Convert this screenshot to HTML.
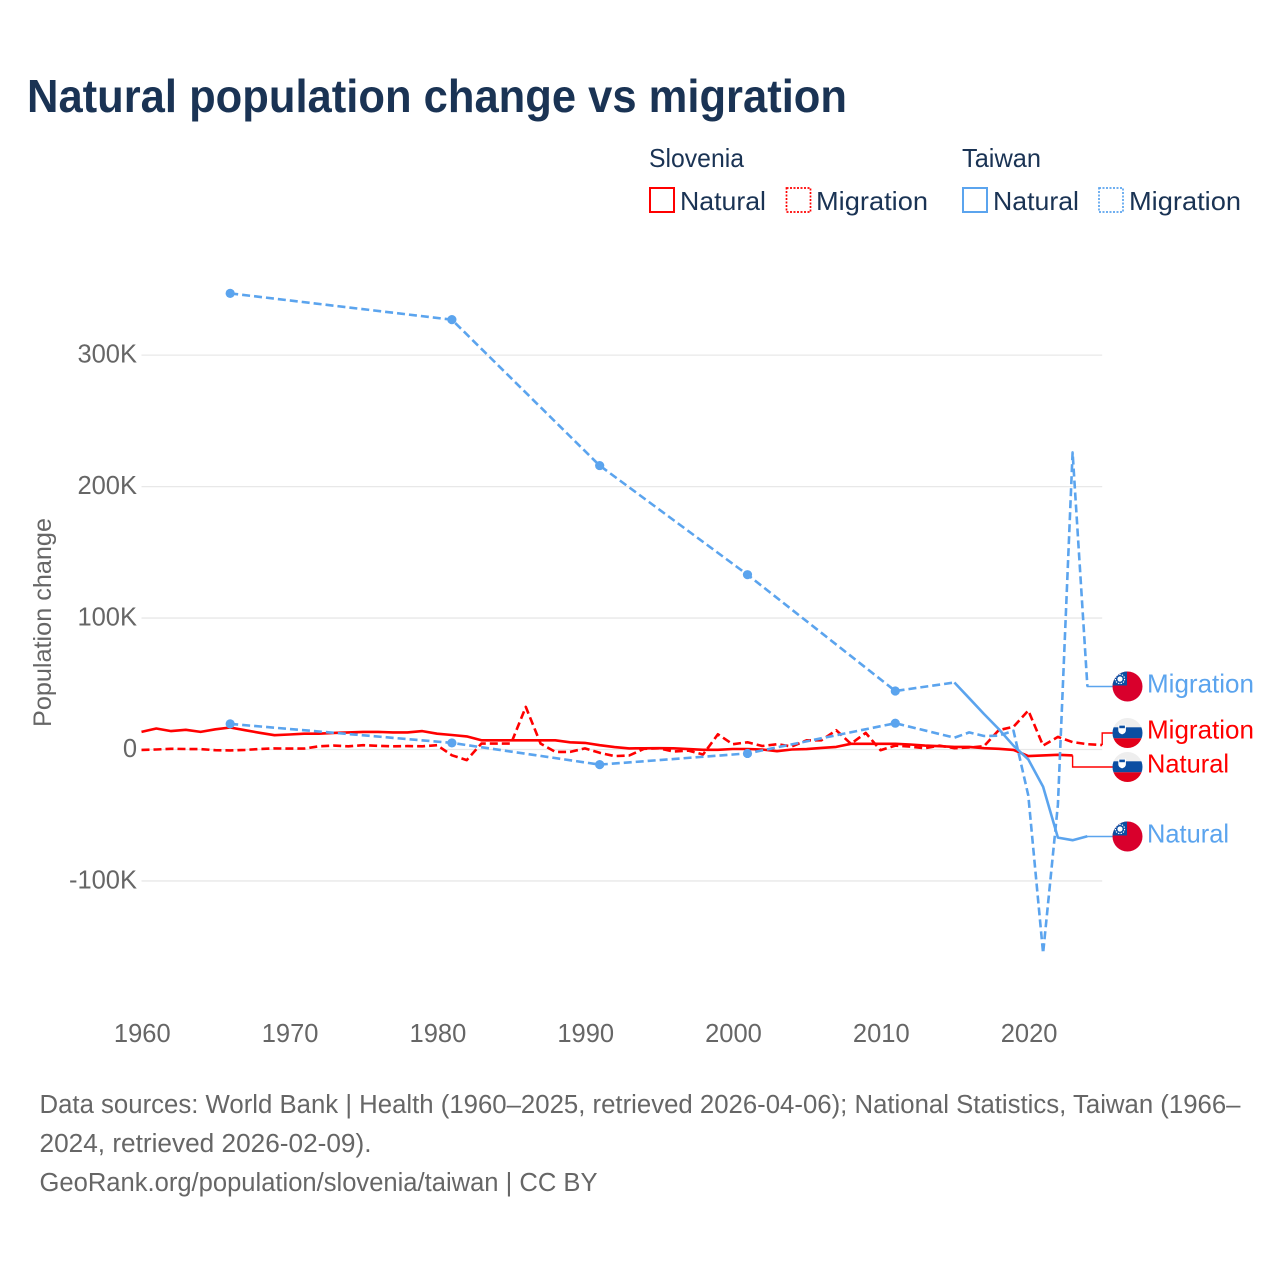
<!DOCTYPE html>
<html lang="en">
<head>
<meta charset="utf-8">
<title>Natural population change vs migration</title>
<style>
html,body{margin:0;padding:0;background:#fff;}
svg{display:block;font-family:"Liberation Sans",sans-serif;}
</style>
</head>
<body>
<svg id="chart" xmlns="http://www.w3.org/2000/svg" width="1280" height="1280" viewBox="0 0 1280 1280">
  <defs>
    <clipPath id="flag-clip"><circle cx="0" cy="0" r="15"/></clipPath>
    <g id="flag-tw" clip-path="url(#flag-clip)">
      <rect x="-15" y="-15" width="30" height="30" fill="#d9002c"/>
      <rect x="-15" y="-15" width="14.5" height="14" fill="#0b4ea2"/>
      <circle cx="-7.5" cy="-7.5" r="2.6" fill="#fff"/>
      <circle cx="-7.5" cy="-7.5" r="4.6" fill="none" stroke="#fff" stroke-width="1.2" stroke-dasharray="1.4 1.2"/>
    </g>
    <g id="flag-si" clip-path="url(#flag-clip)">
      <rect x="-15" y="-15" width="30" height="30" fill="#eeeeee"/>
      <rect x="-15" y="-5.7" width="30" height="11" fill="#0b4ea2"/>
      <rect x="-15" y="5.3" width="30" height="10" fill="#e2001a"/>
      <path d="M-9.2,-8.2 h7.6 v5.6 q0,2.8 -3.8,4 q-3.8,-1.2 -3.8,-4 z" fill="#ffffff"/>
      <rect x="-8.2" y="-7.4" width="5.6" height="2.6" fill="#0b4ea2"/>
    </g>
  </defs>

  <text x="27" y="112" font-size="46" font-weight="bold" fill="#1a3354" textLength="820" lengthAdjust="spacingAndGlyphs">Natural population change vs migration</text>

  <g font-size="26" fill="#1a3354">
    <text x="649" y="167" textLength="95" lengthAdjust="spacingAndGlyphs">Slovenia</text>
    <rect x="650" y="188" width="24" height="24" fill="none" stroke="#ff0000" stroke-width="2"/>
    <text x="680" y="210" textLength="86" lengthAdjust="spacingAndGlyphs">Natural</text>
    <rect x="786.5" y="188" width="24" height="24" fill="none" stroke="#ff0000" stroke-width="1.7" stroke-dasharray="2 1.5"/>
    <text x="816" y="210" textLength="112" lengthAdjust="spacingAndGlyphs">Migration</text>
    <text x="962" y="167" textLength="79" lengthAdjust="spacingAndGlyphs">Taiwan</text>
    <rect x="963" y="188" width="24" height="24" fill="none" stroke="#5ba4ee" stroke-width="2"/>
    <text x="993" y="210" textLength="86" lengthAdjust="spacingAndGlyphs">Natural</text>
    <rect x="1099" y="188" width="24" height="24" fill="none" stroke="#5ba4ee" stroke-width="1.7" stroke-dasharray="2 1.5"/>
    <text x="1129" y="210" textLength="112" lengthAdjust="spacingAndGlyphs">Migration</text>
  </g>

  <text transform="translate(51,727) rotate(-90)" font-size="25" fill="#666666" textLength="209" lengthAdjust="spacingAndGlyphs">Population change</text>

  <g id="grid"></g>
  <g id="yticks" font-size="25.5" fill="#666666" text-anchor="end"></g>
  <g id="xticks" font-size="25.5" fill="#666666" text-anchor="middle"></g>
  <g id="connectors"></g>
  <g id="series"></g>

  <g font-size="26">
    <use href="#flag-tw" x="1127.5" y="686.5"/>
    <text x="1147" y="692.5" fill="#5ba4ee" textLength="107" lengthAdjust="spacingAndGlyphs">Migration</text>
    <use href="#flag-si" x="1127.5" y="733"/>
    <text x="1147" y="738.5" fill="#ff0000" textLength="107" lengthAdjust="spacingAndGlyphs">Migration</text>
    <use href="#flag-si" x="1127.5" y="767"/>
    <text x="1147" y="772.5" fill="#ff0000" textLength="82" lengthAdjust="spacingAndGlyphs">Natural</text>
    <use href="#flag-tw" x="1127.5" y="836.5"/>
    <text x="1147" y="842.5" fill="#5ba4ee" textLength="82" lengthAdjust="spacingAndGlyphs">Natural</text>
  </g>

  <g font-size="25.5" fill="#666666">
    <text x="39.5" y="1113" textLength="1201" lengthAdjust="spacingAndGlyphs">Data sources: World Bank | Health (1960–2025, retrieved 2026-04-06); National Statistics, Taiwan (1966–</text>
    <text x="39.5" y="1152" textLength="332" lengthAdjust="spacingAndGlyphs">2024, retrieved 2026-02-09).</text>
    <text x="39.5" y="1191" textLength="558" lengthAdjust="spacingAndGlyphs">GeoRank.org/population/slovenia/taiwan | CC BY</text>
  </g>
</svg>
<script>
// Chart data, in thousands of people per year, 1960-2025
const firstYear = 1960;
const lastYear = 2025;
const xTickYears = [1960, 1970, 1980, 1990, 2000, 2010, 2020];
const yTickValues = [300, 200, 100, 0, -100];
const yTickLabels = ['300K', '200K', '100K', '0', '-100K'];

const sloveniaNatural = [
  13.4, 16, 14, 15, 13.4, 15.4, 16.7, 14.7, 12.7, 10.9,
  11.4, 12, 12, 12.6, 13, 13.4, 13.4, 13, 13, 14,
  12, 11, 10, 7, 7, 7, 7, 7, 7, 5.5,
  5, 3.3, 1.8, 0.8, 0.9, 1, 0.9, 0.3, -0.2, -0.2,
  0.4, 0.4, 0, -1.3, 0, 0.3, 1.2, 2, 4.3, 4.3,
  4.3, 4.3, 3.8, 3, 2.5, 2, 2, 1, 0.5, -0.3,
  -5, -4.5, -4, -4.5, null, null
];
const sloveniaMigration = [
  -0.3, 0, 0.5, 0.4, 0.3, -0.5, -0.7, -0.3, 0.4, 0.8,
  0.7, 0.7, 2.4, 3, 2.4, 3.3, 2.8, 2.4, 2.6, 2.4,
  3.3, -4.4, -8.1, 4.5, 4.5, 4.5, 32.4, 4.5, -1.8, -1.8,
  0.8, -2.5, -5, -4.6, 0.5, 0.9, -1.5, -0.8, -3.8, 11.6,
  4, 5.5, 2.7, 4, 2.3, 7, 7, 14.7, 4.3, 12.6,
  -0.5, 3, 2.2, 1, 3, 1, 1.5, 2.5, 14.7, 17.3,
  29.7, 3, 9.6, 5.6, 4, 3.4
];
const taiwanNatural = [
  null, null, null, null, null, null, 347, null, null, null,
  null, null, null, null, null, null, null, null, null, null,
  null, 327, null, null, null, null, null, null, null, null,
  null, 216, null, null, null, null, null, null, null, null,
  null, 133, null, null, null, null, null, null, null, null,
  null, 44.5, null, null, null, 51, 39, 27, 15.6, 2.9,
  -7.5, -28.4, -67, -69, -66, null
];
const taiwanMigration = [
  null, null, null, null, null, null, 19.5, null, null, null,
  null, null, null, null, null, null, null, null, null, null,
  null, 5, null, null, null, null, null, null, null, null,
  null, -11.5, null, null, null, null, null, null, null, null,
  null, -3, null, null, null, null, null, null, null, null,
  null, 20, null, null, null, 9, 13, 10.3, 10.5, 14.3,
  -35, -155, -42, 226, 48, null
];

const SVG_NS = 'http://www.w3.org/2000/svg';
const xScale = function (year) { return 141.5 + (year - firstYear) * 14.78; };
const yScale = function (v) { return 749.5 - v * 1.3145; };

function make(tag, parent, attrs) {
  const el = document.createElementNS(SVG_NS, tag);
  Object.keys(attrs).forEach(function (k) { el.setAttribute(k, attrs[k]); });
  parent.appendChild(el);
  return el;
}
function pathOf(points) {
  return points.map(function (p, i) { return (i ? 'L' : 'M') + p[0].toFixed(1) + ',' + p[1].toFixed(1); }).join(' ');
}

const gridGroup = document.getElementById('grid');
const yTickGroup = document.getElementById('yticks');
yTickValues.forEach(function (v, i) {
  const line = make('line', gridGroup, { x1: xScale(firstYear), x2: xScale(lastYear), y1: yScale(v), y2: yScale(v), stroke: '#e8e8e8', 'stroke-width': 1.3 });
  
  
  const label = make('text', yTickGroup, { x: 137, y: yScale(v) + 7.5 });
  
  
  label.textContent = yTickLabels[i];
});

const xTickGroup = document.getElementById('xticks');
xTickYears.forEach(function (year) {
  const label = make('text', xTickGroup, { x: xScale(year) + 0.8, y: 1042 });
  
  
  label.textContent = String(year);
});

function drawSeries(values, color, alwaysDashed, slug) {
  const group = make('g', document.getElementById('series'), {});
  
  
  const present = [];
  values.forEach(function (v, i) { if (v !== null) present.push(i); });
  const runs = [];
  present.forEach(function (idx, n) {
    if (n === 0) return;
    const prev = present[n - 1];
    const dashed = alwaysDashed || idx - prev > 1;
    const pt = [xScale(firstYear + idx), yScale(values[idx])];
    const last = runs[runs.length - 1];
    if (last && last.dashed === dashed) {
      last.points.push(pt);
    } else {
      runs.push({ dashed: dashed, points: [[xScale(firstYear + prev), yScale(values[prev])], pt] });
    }
  });
  runs.forEach(function (run) {
    const seg = make('path', group, {
      d: pathOf(run.points), fill: 'none', stroke: color, 'stroke-width': 2.6, 'stroke-linecap': 'butt', 'stroke-linejoin': 'round'
    });
    if (run.dashed) seg.setAttribute('stroke-dasharray', '8 4');
    
    
  });
  present.forEach(function (idx, n) {
    const isolated = (n === 0 || present[n - 1] !== idx - 1) && (n === present.length - 1 || present[n + 1] !== idx + 1);
    if (!isolated) return;
    const dot = make('circle', group, { cx: xScale(firstYear + idx), cy: yScale(values[idx]), r: 4.6, fill: color });
    
    
  });
}

function drawConnector(values, color, flagY, slug) {
  let i = values.length - 1;
  while (values[i] === null) i--;
  const x = xScale(firstYear + i);
  const y = yScale(values[i]);
  const c = make('path', document.getElementById('connectors'), {
    d: pathOf([[x, y], [x, flagY], [1113, flagY]]), fill: 'none', stroke: color, 'stroke-width': 1.4
  });
  
  
}

drawConnector(sloveniaNatural, '#ff0000', 767, 'slovenia-natural');
drawConnector(sloveniaMigration, '#ff0000', 733, 'slovenia-migration');
drawConnector(taiwanNatural, '#5ba4ee', 836.5, 'taiwan-natural');
drawConnector(taiwanMigration, '#5ba4ee', 686.5, 'taiwan-migration');

drawSeries(sloveniaMigration, '#ff0000', true, 'slovenia-migration');
drawSeries(sloveniaNatural, '#ff0000', false, 'slovenia-natural');
drawSeries(taiwanMigration, '#5ba4ee', true, 'taiwan-migration');
drawSeries(taiwanNatural, '#5ba4ee', false, 'taiwan-natural');
</script>
</body>
</html>
